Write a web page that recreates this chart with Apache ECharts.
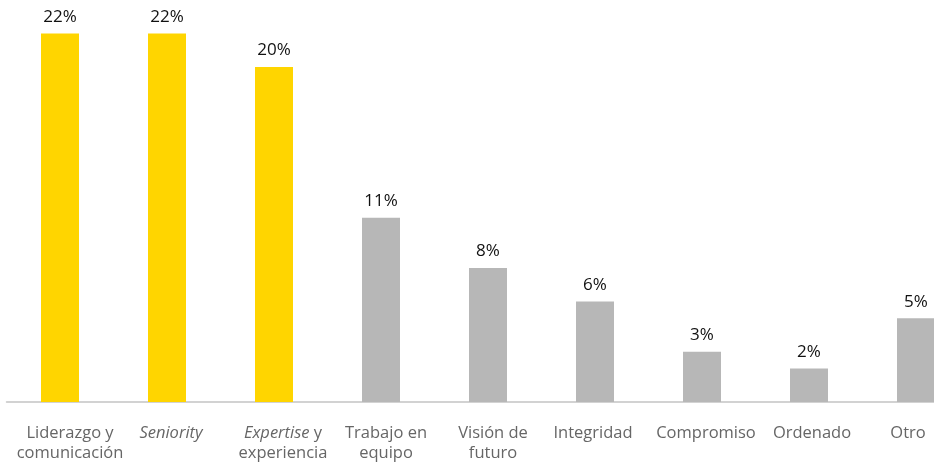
<!DOCTYPE html>
<html>
<head>
<meta charset="utf-8">
<script src="https://cdn.jsdelivr.net/npm/echarts@6/dist/echarts.min.js"></script>
<style>
  html, body { margin: 0; padding: 0; background: #fff; }
  #chart { width: 934px; height: 466px; }
</style>
</head>
<body>
<div id="chart"></div>
<script>
// categorías (eje x) y porcentajes de cada barra
const categories = [
  "Liderazgo y\ncomunicación",
  "Seniority",
  "Expertise y\nexperiencia",
  "Trabajo en\nequipo",
  "Visión de\nfuturo",
  "Integridad",
  "Compromiso",
  "Ordenado",
  "Otro",
];
const values = [22, 22, 20, 11, 8, 6, 3, 2, 5];
const italicWords = ["Seniority", "Expertise"];

// estilo
const YELLOW = "#FFD500";
const GREY = "#B7B7B7";
const highlighted = 3; // las tres primeras en amarillo
// desplazamiento horizontal de cada etiqueta respecto al centro de la barra
const labelShift = [10, 4, 9, 5, 5, -2, 4, 3, -8];

const chart = echarts.init(document.getElementById("chart"));

const axisData = categories.map((name, i) => {
  const s = labelShift[i];
  return {
    value: name,
    textStyle: {
      padding: s >= 0 ? [0, 0, 0, 2 * s] : [0, 2 * -s, 0, 0],
    },
  };
});

const option = {
  animation: false,
  // la última barra queda cortada por el borde derecho, como en el original
  grid: {
    left: 6.5,
    width: 963,
    top: 0,
    bottom: 64,
    containLabel: false,
    outerBoundsMode: "none",
  },
  xAxis: {
    type: "category",
    data: axisData,
    axisLine: { show: true, lineStyle: { color: "#C4C4C4", width: 1.5 } },
    axisTick: { show: false },
    axisLabel: {
      interval: 0,
      margin: 21,
      fontFamily: "Open Sans",
      fontSize: 16.5,
      lineHeight: 20,
      color: "#666666",
      formatter: (v) => {
        let t = v;
        italicWords.forEach((w) => {
          t = t.replace(w, "{i|" + w + "}");
        });
        return t;
      },
      rich: {
        i: {
          fontStyle: "italic",
          fontFamily: "Open Sans",
          fontSize: 16.5,
          lineHeight: 20,
          color: "#666666",
        },
      },
    },
  },
  yAxis: {
    type: "value",
    min: 0,
    max: 24,
    show: false,
    splitLine: { show: false },
  },
  series: [
    {
      type: "bar",
      data: values,
      barWidth: 38,
      itemStyle: {
        color: (p) => (p.dataIndex < highlighted ? YELLOW : GREY),
      },
      label: {
        show: true,
        position: "top",
        distance: 8,
        formatter: "{c}%",
        fontFamily: "Open Sans",
        fontSize: 17,
        color: "#111111",
      },
    },
  ],
};

chart.setOption(option);
</script>
</body>
</html>
